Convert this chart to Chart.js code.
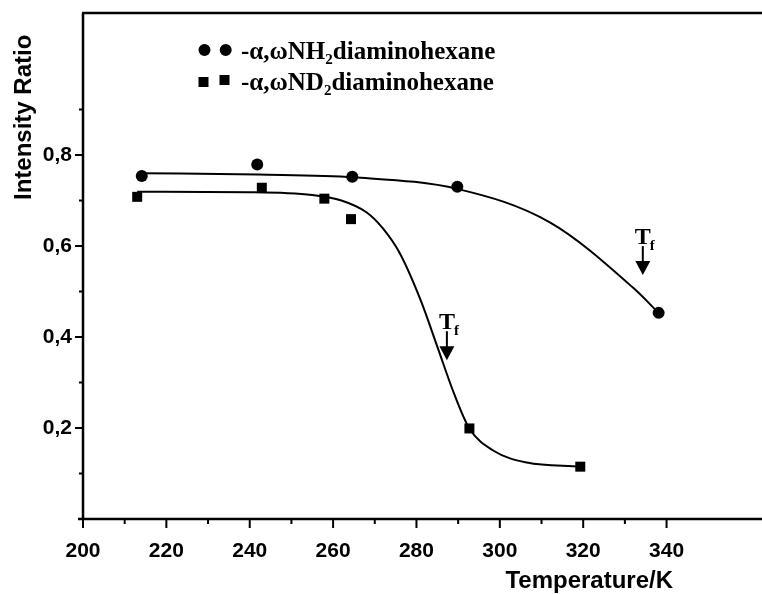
<!DOCTYPE html>
<html>
<head>
<meta charset="utf-8">
<script src="https://cdn.jsdelivr.net/npm/chart.js@4"></script>
<style>
  html, body { margin: 0; padding: 0; background: #fff; }
  canvas { display: block; }
</style>
</head>
<body>
<canvas id="chart" width="762" height="594"></canvas>
<script>
// ===== DATA =====
const tempNH2  = [214.1, 241.8, 264.6, 289.8, 338.1];
const ratioNH2 = [0.754, 0.779, 0.752, 0.730, 0.453];
const tempND2  = [213.0, 242.9, 257.9, 264.3, 292.7, 319.3];
const ratioND2 = [0.708, 0.728, 0.704, 0.659, 0.199, 0.115];

// fitted curves
const fitTempNH2  = [214, 242, 265, 290, 312, 332, 338.1];
const fitRatioNH2 = [0.760, 0.757, 0.751, 0.725, 0.652, 0.508, 0.453];
const fitTempND2  = [213, 240, 255, 262, 268, 272, 276, 281, 285, 289, 292.7, 298.5, 306.5, 319.3];
const fitRatioND2 = [0.719, 0.718, 0.712, 0.700, 0.674, 0.638, 0.584, 0.481, 0.379, 0.276, 0.199, 0.150, 0.124, 0.115];

const xTickLabels = [200, 220, 240, 260, 280, 300, 320, 340];
const yTickLabels = [0.2, 0.4, 0.6, 0.8];
const legendLabels = [['-α,ωNH', '2', 'diaminohexane'], ['-α,ωND', '2', 'diaminohexane']];
// T_f arrows: [temperature, ratio at arrow tip]
const tfMarks = [[287.3, 0.349], [334.3, 0.536]];

const SANS = '"Liberation Sans", Arial, sans-serif';
const SERIF = '"Liberation Serif", "Times New Roman", serif';

const toXY = (xs, ys) => xs.map((x, i) => ({ x: x, y: ys[i] }));

// ===== AXES FRAME, LEGEND, ANNOTATIONS =====
const decorations = {
  id: 'decorations',
  afterDraw(chart) {
    const { ctx, chartArea: a, scales: { x, y } } = chart;
    ctx.save();
    ctx.strokeStyle = '#000';
    ctx.fillStyle = '#000';

    // frame
    ctx.lineWidth = 2.5;
    ctx.beginPath();
    ctx.moveTo(a.left, a.bottom);
    ctx.lineTo(a.left, a.top);
    ctx.moveTo(a.left - 1, a.top);
    ctx.lineTo(chart.width, a.top);
    ctx.moveTo(a.left - 5, a.bottom);
    ctx.lineTo(chart.width, a.bottom);
    ctx.stroke();

    // tick marks
    ctx.lineWidth = 2;
    ctx.beginPath();
    for (let v = 200; v <= 340; v += 10) {
      const px = x.getPixelForValue(v);
      const len = v % 20 === 0 ? 9 : 5;
      ctx.moveTo(px, a.bottom);
      ctx.lineTo(px, a.bottom + len);
    }
    for (let k = 1; k <= 9; k++) {
      const py = y.getPixelForValue(k / 10);
      const len = k % 2 === 0 ? 8 : 4;
      ctx.moveTo(a.left, py);
      ctx.lineTo(a.left - len, py);
    }
    ctx.stroke();

    // legend
    const rows = [50, 81];
    ctx.beginPath();
    ctx.arc(204.5, rows[0], 6, 0, Math.PI * 2);
    ctx.arc(225.7, rows[0], 6, 0, Math.PI * 2);
    ctx.fill();
    ctx.fillRect(198.5, rows[1] - 4, 10, 10);
    ctx.fillRect(219.5, rows[1] - 6, 10, 10);

    ctx.textAlign = 'left';
    ctx.textBaseline = 'alphabetic';
    legendLabels.forEach((parts, i) => {
      const base = rows[i] + 8.5;
      let tx = 241;
      ctx.font = 'bold 25px ' + SERIF;
      ctx.fillText(parts[0], tx, base);
      tx += ctx.measureText(parts[0]).width;
      ctx.font = 'bold 15px ' + SERIF;
      ctx.fillText(parts[1], tx, base + 5);
      tx += ctx.measureText(parts[1]).width;
      ctx.font = 'bold 25px ' + SERIF;
      ctx.fillText(parts[2], tx, base);
    });

    // T_f arrows
    tfMarks.forEach(([t, r]) => {
      const ax = x.getPixelForValue(t);
      const tip = y.getPixelForValue(r);
      ctx.lineWidth = 2;
      ctx.beginPath();
      ctx.moveTo(ax, tip - 29);
      ctx.lineTo(ax, tip - 12);
      ctx.stroke();
      ctx.beginPath();
      ctx.moveTo(ax - 7.5, tip - 14);
      ctx.lineTo(ax + 7.5, tip - 14);
      ctx.lineTo(ax, tip);
      ctx.closePath();
      ctx.fill();
      ctx.textAlign = 'center';
      ctx.font = 'bold 24px ' + SERIF;
      ctx.fillText('T', ax, tip - 31);
      ctx.textAlign = 'left';
      ctx.font = 'bold 15px ' + SERIF;
      ctx.fillText('f', ax + 7, tip - 25);
    });

    // axis titles
    ctx.font = 'bold 24px ' + SANS;
    ctx.textAlign = 'right';
    ctx.textBaseline = 'alphabetic';
    ctx.fillText('Temperature/K', 673, 588);
    ctx.translate(31, 200);
    ctx.rotate(-Math.PI / 2);
    ctx.textAlign = 'left';
    ctx.fillText('Intensity Ratio', 0, 0);
    ctx.restore();
  }
};

// ===== CHART =====
new Chart(document.getElementById('chart'), {
  type: 'scatter',
  data: {
    datasets: [
      { label: 'NH2', data: toXY(tempNH2, ratioNH2), pointStyle: 'circle', pointRadius: 6,
        backgroundColor: '#000', borderColor: '#000', borderWidth: 0, showLine: false },
      { label: 'ND2', data: toXY(tempND2, ratioND2), pointStyle: 'rect', pointRadius: 7.07,
        backgroundColor: '#000', borderColor: '#000', borderWidth: 0, showLine: false },
      { label: 'fit NH2', data: toXY(fitTempNH2, fitRatioNH2), showLine: true, pointRadius: 0,
        borderColor: '#000', borderWidth: 2, cubicInterpolationMode: 'monotone' },
      { label: 'fit ND2', data: toXY(fitTempND2, fitRatioND2), showLine: true, pointRadius: 0,
        borderColor: '#000', borderWidth: 2, cubicInterpolationMode: 'monotone' }
    ]
  },
  options: {
    responsive: false,
    devicePixelRatio: 1,
    animation: false,
    layout: { padding: { top: 13, left: 0, right: 0, bottom: 0 } },
    plugins: { legend: { display: false }, tooltip: { enabled: false } },
    scales: {
      x: {
        type: 'linear', min: 200, max: 361.2,
        afterFit: s => { s.height = 75; s.paddingLeft = 0; s.paddingRight = 0; },
        grid: { display: false, drawTicks: false },
        border: { display: false },
        ticks: {
          stepSize: 20, autoSkip: false, maxRotation: 0, padding: 20, color: '#000',
          font: { family: SANS, size: 21, weight: 'bold' },
          callback: v => xTickLabels.includes(v) ? String(v) : ''
        }
      },
      y: {
        type: 'linear', min: 0, max: 1.112,
        afterFit: s => { s.width = 83; s.paddingTop = 0; s.paddingBottom = 0; },
        grid: { display: false, drawTicks: false },
        border: { display: false },
        ticks: {
          stepSize: 0.2, autoSkip: false, padding: 11, color: '#000',
          font: { family: SANS, size: 21, weight: 'bold' },
          callback: v => {
            const hit = yTickLabels.find(t => Math.abs(t - v) < 1e-6);
            return hit !== undefined ? hit.toFixed(1).replace('.', ',') : '';
          }
        }
      }
    }
  },
  plugins: [decorations]
});
</script>
</body>
</html>
